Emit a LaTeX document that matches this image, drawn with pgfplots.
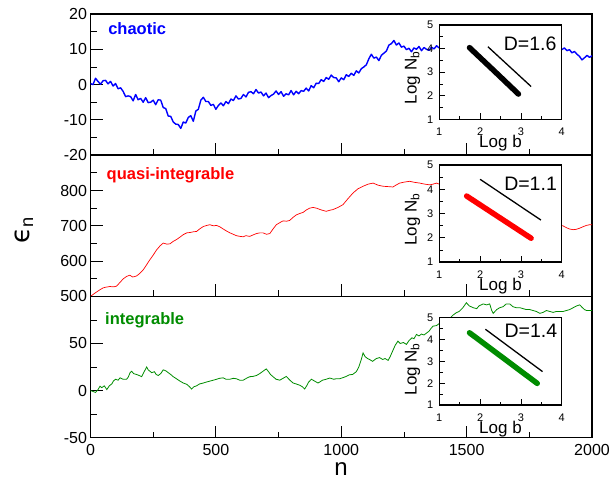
\documentclass[border=0pt]{standalone}
\usepackage{fontspec}
\setmainfont{Liberation Sans}
\newfontfamily\djv{DejaVu Sans}
\usepackage{pgfplots}
\pgfplotsset{compat=1.18}
\definecolor{cblue}{RGB}{0,0,255}
\definecolor{cred}{RGB}{255,0,0}
\definecolor{cgreen}{RGB}{0,140,0}
\pgfplotsset{
 mainax/.style={scale only axis, width=501.5pt, height=141.2pt, anchor=south west,
   xmin=0, xmax=2000, axis line style={line width=1.6pt},
   tick pos=left, tick align=inside,
   xtick={0,500,...,2000}, minor xtick={250,750,1250,1750},
   major tick length=12pt, minor tick length=6pt,
   every tick/.style={line width=0.8pt, black},
   ticklabel style={font=\fontsize{16}{19}\selectfont},
   xticklabel style={yshift=-3.5pt},
   /pgf/number format/assume math mode=true,
   /pgf/number format/1000 sep={}},
 inset/.style={scale only axis, width=122.4pt, anchor=south west,
   xmin=1, xmax=4, ymin=1, ymax=5,
   axis background/.style={fill=white},
   axis line style={line width=1.5pt},
   tick pos=left, tick align=inside,
   xtick={1,2,3,4}, minor xtick={1.5,2.5,3.5},
   ytick={1,2,3,4,5}, minor ytick={1.5,2.5,3.5,4.5},
   major tick length=6pt, minor tick length=3.3pt,
   every tick/.style={line width=0.7pt, black},
   ticklabel style={font=\fontsize{11}{13}\selectfont},
   xticklabel style={yshift=-5pt}, yticklabel style={xshift=-2.5pt},
   /pgf/number format/assume math mode=true,
   xlabel={Log b}, ylabel={Log N\textsubscript{b}},
   label style={font=\fontsize{17}{20}\selectfont},
   xlabel style={at={(axis description cs:0.5,0)}, anchor=north, yshift=-15.5pt, inner sep=0pt},
   clip=true}
}
\tikzset{
 dlabel/.style={anchor=north east, inner sep=0pt, font=\fontsize{19.5}{22}\selectfont},
 plabel/.style={anchor=base west, inner sep=0pt, font=\bfseries\fontsize{16.5}{19}\selectfont}
}
\begin{document}
\begin{tikzpicture}
\useasboundingbox (0,0) rectangle (612pt,479pt);
% ---------------- top: chaotic
\begin{axis}[mainax, at={(90.5pt,323.8pt)}, ymin=-20, ymax=20,
  ytick={-20,-10,0,10,20}, minor ytick={-15,-5,5,15}, xticklabels={}]
\addplot[cblue, line width=1.4pt, line join=round] coordinates {
(0,0.3)(10,0.0)(20,1.8)(30,0.9)(40,0.1)(50,1.1)(60,1.2)(70,0.2)(80,0.9)(90,-0.4)
(100,0.3)(110,-1.2)(120,-0.9)(130,-1.9)(140,-3.4)(150,-3.2)(160,-3.4)(170,-4.6)(180,-2.8)(190,-4.3)
(200,-3.9)(210,-5.0)(220,-3.7)(230,-5.1)(240,-5.0)(250,-4.4)(260,-5.7)(270,-4.3)(280,-4.4)(290,-6.5)
(300,-6.8)(310,-8.9)(320,-9.0)(330,-10.6)(340,-11.2)(350,-11.3)(360,-12.4)(370,-10.6)(380,-10.9)(390,-9.3)
(400,-8.8)(410,-10.4)(420,-7.5)(430,-7.0)(440,-4.4)(450,-3.6)(460,-4.8)(470,-4.8)(480,-5.9)(490,-5.6)
(500,-7.0)(510,-5.9)(520,-5.2)(530,-6.0)(540,-4.8)(550,-5.4)(560,-4.1)(570,-4.5)(580,-3.2)(590,-4.1)
(600,-3.9)(610,-2.8)(620,-3.5)(630,-2.2)(640,-2.0)(650,-2.6)(660,-1.4)(670,-2.4)(680,-2.1)(690,-3.2)
(700,-2.4)(710,-3.7)(720,-3.1)(730,-2.7)(740,-1.8)(750,-2.8)(760,-2.0)(770,-3.3)(780,-2.6)(790,-2.9)
(800,-1.7)(810,-2.9)(820,-1.9)(830,-2.6)(840,-1.7)(850,-1.9)(860,-1.0)(870,-1.8)(880,-0.3)(890,-0.9)
(900,0.4)(910,0.3)(920,1.4)(930,0.9)(940,2.0)(950,1.5)(960,2.7)(970,2.0)(980,1.9)(990,0.8)
(1000,1.9)(1010,1.4)(1020,2.8)(1030,2.3)(1040,3.2)(1050,2.6)(1060,3.9)(1070,3.3)(1080,4.5)(1090,5.0)
(1100,5.6)(1110,7.3)(1120,8.6)(1130,7.5)(1140,7.8)(1150,6.8)(1160,8.3)(1170,8.9)(1180,9.5)(1190,11.2)
(1200,11.6)(1210,12.5)(1220,11.2)(1230,11.8)(1240,10.6)(1250,10.9)(1260,9.9)(1270,10.3)(1280,9.3)(1290,10.4)
(1300,10.0)(1310,10.8)(1320,9.6)(1330,10.5)(1340,10.0)(1350,9.7)(1360,10.6)(1370,10.1)(1380,11.0)(1390,10.4)
(1400,10.9)(1450,11.0)(1500,10.5)(1550,11.5)(1600,10.8)(1650,11.2)(1700,10.6)(1750,11.0)(1800,10.4)(1850,10.6)
(1860,10.2)(1870,10.8)(1880,9.9)(1890,10.4)(1900,9.6)(1910,9.9)(1920,9.0)(1930,9.4)(1940,8.6)(1950,8.0)
(1960,7.0)(1970,7.6)(1980,8.3)(1990,7.7)(2000,8.2)};
\node[plabel, text=cblue] at (rel axis cs:0.035,0.857) {chaotic};
\end{axis}
% ---------------- middle: quasi-integrable
\begin{axis}[mainax, at={(90.5pt,182.6pt)}, ymin=500, ymax=900,
  ytick={500,600,700,800}, minor ytick={550,650,750,850}, xticklabels={}]
\addplot[cred, line width=0.7pt] coordinates {
(0,500)(15,508)(38,519)(50,524)(60,526)(78,528)(92,527)(104,529)(118,540)(131,550)(145,557)(157,560)(168,555)(175,556)
(184,558)(198,566)(211,576)(224,590)(237,604)(250,617)(264,632)(277,643)(290,651)(305,648)(317,649)(330,656)
(343,661)(357,668)(370,675)(384,680)(397,681)(410,683)(423,684)(437,692)(450,698)(463,701)(476,703)(490,700)
(503,701)(516,697)(529,691)(543,685)(556,680)(569,676)(582,672)(596,670)(609,669)(620,672)(635,670)(648,674)
(662,678)(675,680)(688,680)(702,676)(715,678)(728,691)(741,703)(755,709)(768,714)(781,713)(794,715)(808,724)
(821,731)(835,735)(848,738)(861,745)(874,750)(888,752)(901,750)(920,745)(940,741)(954,744)(967,746)(987,752)
(1007,760)(1027,777)(1047,793)(1067,805)(1087,812)(1107,818)(1127,821)(1147,815)(1167,812)(1187,811)(1206,810)
(1220,816)(1233,821)(1253,824)(1273,826)(1293,823)(1313,821)(1333,818)(1353,816)(1366,818)(1380,821)
(1420,810)(1480,800)(1540,790)(1600,770)(1660,760)(1720,740)(1780,720)(1840,705)(1860,702)
(1884,700)(1897,695)(1910,691)(1924,689)(1937,690)(1950,693)(1963,697)(1977,701)(1990,703)(2000,703)};
\node[plabel, text=cred] at (rel axis cs:0.032,0.828) {quasi-integrable};
\end{axis}
% ---------------- bottom: integrable
\begin{axis}[mainax, at={(90.5pt,41.4pt)}, ymin=-50, ymax=100,
  ytick={-50,0,50}, minor ytick={-25,25,75}]
\addplot[cgreen, line width=0.8pt] coordinates {
(0,0)(10,-1)(20,-2)(30,1)(38,4.6)(45,3)(55,5)(65,1)(75,5)(85,7)(91,10)(100,12)(110,11)(118,13.5)
(130,12)(144,12)(150,14)(158,19)(164,20.5)(172,18)(184,17)(194,16)(204,14.7)(214,20)(224,25)(230,22)
(244,19)(255,20)(262,17)(270,16)(280,18)(290,22)(300,21)(310,19)(320,17)(330,14.7)(340,13)(357,10)
(370,8)(384,6.6)(395,4)(403,1.6)(412,4)(423,5)(435,7)(450,8)(462,9)(476,10)(490,11)(503,12)(515,13)
(529,13.5)(540,12)(556,12)(570,13)(582,12.5)(595,11)(609,11)(622,13)(635,14.7)(648,15)(662,16)(675,18)
(688,20.5)(701,23)(710,20)(718,17)(728,14.7)(740,12)(755,11)(768,13)(781,15)(795,11)(808,8)(820,7)
(834,5.7)(845,4)(854,1.6)(862,5)(870,9)(881,12)(894,10)(907,8)(914,9)(925,11)(940,12)(954,13.3)
(970,12)(980,12.5)(993,12.5)(1010,14)(1020,15)(1033,16.8)(1045,17)(1060,20)(1070,25)(1080,33)(1087,40)
(1095,36)(1105,34)(1113,33)(1125,31)(1140,34)(1153,35)(1165,33)(1175,34)(1187,32)(1195,36)(1205,42)
(1215,48)(1226,52.5)(1235,50)(1248,51)(1260,49)(1270,53)(1282,56)(1290,55)(1300,59.6)(1310,58)(1320,60)
(1330,59)(1340,61)(1350,63)(1358,66)(1366,68.4)(1380,69)(1395,72)(1410,74)(1420,72)(1430,76)(1445,80)
(1459,82.7)(1470,84)(1485,88)(1499,93.3)(1510,90)(1526,88)(1540,87)(1550,90)(1566,92)(1580,91)(1592,92)
(1600,85)(1606,82)(1620,86)(1632,88)(1645,89)(1658,92)(1672,92)(1685,89)(1698,88)(1712,88)(1725,87)
(1738,86)(1752,86)(1765,85)(1778,84)(1792,82)(1805,83)(1818,85)(1832,84)(1845,83)(1858,84)(1872,84)
(1885,84)(1898,85)(1911,86)(1925,88)(1940,90)(1951,91)(1962,88)(1970,86)(1978,85)(1990,85)(2000,85)};
\node[plabel, text=cgreen] at (rel axis cs:0.029,0.802) {integrable};
\end{axis}
% ---------------- insets
\begin{axis}[inset, at={(439.3pt,359.7pt)}, height=94.3pt,
  ylabel style={at={(axis description cs:-0.155,0.44)}, anchor=south, inner sep=0pt}]
\addplot[black, line width=5.5pt, line cap=round] coordinates {(1.74,4.04)(2.34,3.06)(2.94,2.07)};
\addplot[black, line width=1.3pt] coordinates {(2.19,4.08)(3.25,2.39)};
\node[dlabel] at (rel axis cs:0.959,0.876) {D=1.6};
\end{axis}
\begin{axis}[inset, at={(439.3pt,217pt)}, height=97pt,
  ylabel style={at={(axis description cs:-0.155,0.44)}, anchor=south, inner sep=0pt}]
\addplot[cred, line width=5.5pt, line cap=round] coordinates {(1.67,3.72)(2.46,2.85)(3.25,1.98)};
\addplot[black, line width=1.3pt] coordinates {(2.0,4.41)(3.49,2.73)};
\node[dlabel] at (rel axis cs:0.962,0.876) {D=1.1};
\end{axis}
\begin{axis}[inset, at={(439.3pt,74pt)}, height=87.3pt,
  ylabel style={at={(axis description cs:-0.155,0.41)}, anchor=south, inner sep=0pt}]
\addplot[cgreen, line width=5.5pt, line cap=round] coordinates {(1.74,4.31)(2.57,3.15)(3.40,1.99)};
\addplot[black, line width=1.3pt] coordinates {(2.13,4.47)(3.53,2.53)};
\node[dlabel] at (rel axis cs:0.965,0.928) {D=1.4};
\end{axis}
% ---------------- axis labels
\node[rotate=90, anchor=center, font=\fontsize{26}{30}\selectfont] at (24pt,249pt) {{\djv ϵ}\textsubscript{n}};
\node[anchor=base, inner sep=0pt, font=\fontsize{24}{28}\selectfont] at (341pt,3.5pt) {n};
\end{tikzpicture}
\end{document}
